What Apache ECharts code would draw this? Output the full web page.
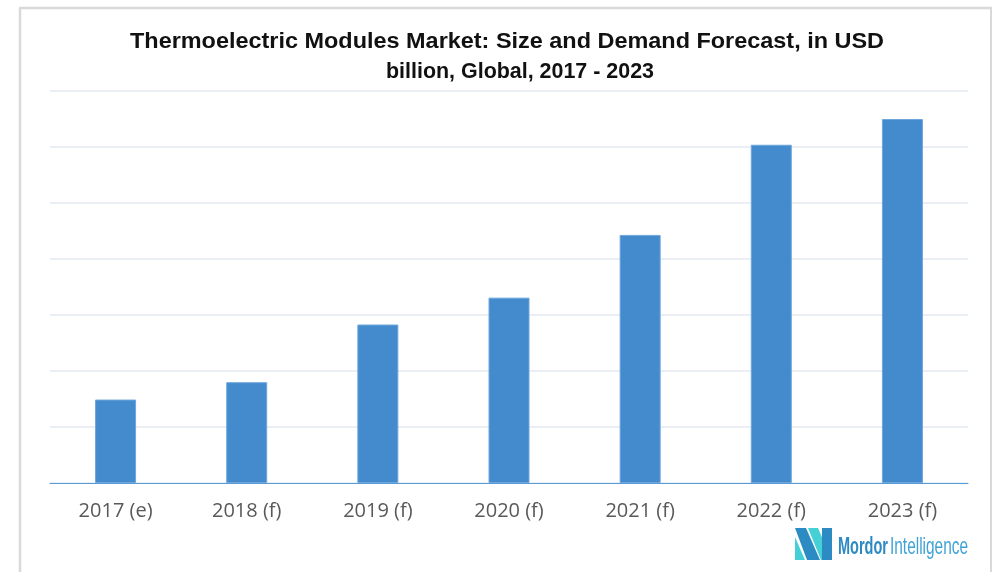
<!DOCTYPE html>
<html>
<head>
<meta charset="utf-8">
<script src="https://cdn.jsdelivr.net/npm/echarts@6/dist/echarts.min.js"></script>
<style>
  html, body { margin: 0; padding: 0; background: #fff; }
  #chart { width: 994px; height: 572px; }
</style>
</head>
<body>
<div id="chart"></div>
<script>
// market size, USD billion
var years = ['2017 (e)', '2018 (f)', '2019 (f)', '2020 (f)', '2021 (f)', '2022 (f)', '2023 (f)'];
var marketSize = [1.49, 1.80, 2.83, 3.31, 4.43, 6.04, 6.50];

var titleLines = ['Thermoelectric Modules Market: Size and Demand Forecast, in USD', 'billion, Global, 2017 - 2023'];

var chart = echarts.init(document.getElementById('chart'));

var frameColor = '#d9d9d9';

// the original uses a condensed font, so squeeze a normal one to the same width
var ctx = document.createElement('canvas').getContext('2d');
function squeeze(text, font, width) {
  ctx.font = font;
  return width / ctx.measureText(text).width;
}

var titleFont = 'bold 22px "Liberation Sans", Arial, sans-serif';
var mordorFont = 'bold 24px "Liberation Sans", Arial, sans-serif';
var intelFont = '24px "Liberation Sans", Arial, sans-serif';

var option = {
  backgroundColor: '#fff',
  animation: false,
  grid: { left: 50, right: 26, top: 91, bottom: 89 },
  xAxis: {
    type: 'category',
    data: years,
    axisTick: { show: false },
    axisLine: { lineStyle: { color: '#5b9bd5', width: 1 } },
    axisLabel: {
      margin: 18,
      fontFamily: '"Open Sans", sans-serif',
      fontSize: 20,
      color: '#595959'
    }
  },
  yAxis: {
    type: 'value',
    min: 0,
    max: 7,
    interval: 1,
    axisLabel: { show: false },
    axisLine: { show: false },
    axisTick: { show: false },
    splitLine: { lineStyle: { color: '#e3eaf3', width: 1.5 } }
  },
  series: [{
    type: 'bar',
    data: marketSize,
    barWidth: 41,
    itemStyle: { color: '#438bcd', borderColor: '#6ea6dc', borderWidth: 1 }
  }],
  graphic: [
    // outer frame
    { type: 'line', shape: { x1: 20, y1: 8, x2: 20, y2: 572 }, style: { stroke: frameColor, lineWidth: 2.5 } },
    { type: 'line', shape: { x1: 19, y1: 8, x2: 992, y2: 8 }, style: { stroke: frameColor, lineWidth: 2.5 } },
    { type: 'line', shape: { x1: 991, y1: 8, x2: 991, y2: 572 }, style: { stroke: frameColor, lineWidth: 2 } },
    // title
    { type: 'text', x: 507, y: 42, scaleX: squeeze(titleLines[0], titleFont, 754),
      style: { text: titleLines[0], font: titleFont, fill: '#111', textAlign: 'center', textVerticalAlign: 'middle' } },
    { type: 'text', x: 520, y: 72, scaleX: squeeze(titleLines[1], titleFont, 268),
      style: { text: titleLines[1], font: titleFont, fill: '#111', textAlign: 'center', textVerticalAlign: 'middle' } },
    // logo mark
    { type: 'polygon', shape: { points: [[795, 537], [795, 560], [805, 560]] }, style: { fill: '#45d0d6' } },
    { type: 'polygon', shape: { points: [[795, 528], [806, 528], [820, 560], [807, 560]] }, style: { fill: '#2d8bc3' } },
    { type: 'polygon', shape: { points: [[808, 528], [818, 528], [824, 542], [824, 560], [821, 560]] }, style: { fill: '#45d0d6' } },
    { type: 'polygon', shape: { points: [[822, 528], [832, 528], [832, 560], [822, 560]] }, style: { fill: '#2d8bc3' } },
    // logo text
    { type: 'text', x: 838, y: 547, scaleX: squeeze('Mordor', mordorFont, 50),
      style: { text: 'Mordor', font: mordorFont, fill: '#2b8ac2', textAlign: 'left', textVerticalAlign: 'middle' } },
    { type: 'text', x: 890, y: 547, scaleX: squeeze('Intelligence', intelFont, 78),
      style: { text: 'Intelligence', font: intelFont, fill: '#3fa2d6', textAlign: 'left', textVerticalAlign: 'middle' } }
  ]
};

chart.setOption(option);
</script>
</body>
</html>
